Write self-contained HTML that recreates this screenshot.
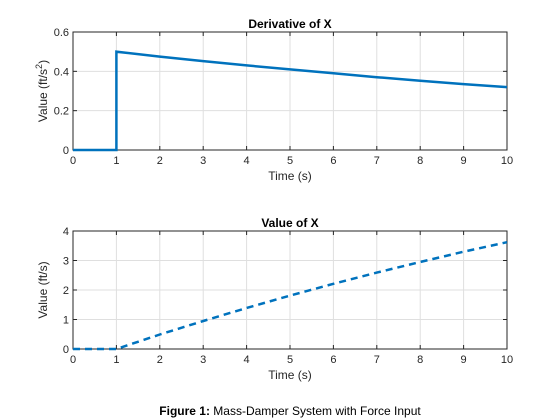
<!DOCTYPE html>
<html><head><meta charset="utf-8"><style>
body{margin:0;background:#fff}
svg{display:block;font-family:"Liberation Sans",sans-serif}
</style></head><body>
<svg id="c" width="560" height="420"></svg>
<script>
const tTop=[0,1,1,2,3,4,5,6,7,8,9,10];
const dxVals=[0,0,0.5,0.475,0.452,0.43,0.41,0.39,0.37,0.352,0.335,0.32];
const tBot=[0,1,2,3,4,5,6,7,8,9,10];
const xVals=[0,0,0.49,0.95,1.39,1.81,2.21,2.59,2.95,3.30,3.62];
const xTicks=[0,1,2,3,4,5,6,7,8,9,10];
const yTicksTop=[0,0.2,0.4,0.6];
const yTicksBot=[0,1,2,3,4];
const NS='http://www.w3.org/2000/svg';
const svg=document.getElementById('c');
function mk(tag,at,txt){const e=document.createElementNS(NS,tag);for(const k in at)e.setAttribute(k,at[k]);if(txt!=null)e.textContent=txt;svg.appendChild(e);return e;}
function panel(o){
  const L=73,R=507,T=o.top,B=o.bot;
  const sx=v=>L+(v-0)/(10-0)*(R-L);
  const sy=v=>B-(v-o.ymin)/(o.ymax-o.ymin)*(B-T);
  const bg=mk('rect',{x:L,y:T,width:R-L,height:B-T,fill:'#fff'});
  
  
  xTicks.forEach(v=>{
    const g=mk('line',{x1:sx(v),x2:sx(v),y1:T,y2:B,stroke:'#dfdfdf','stroke-width':1});
    
    
    mk('line',{x1:sx(v),x2:sx(v),y1:B,y2:B-4,stroke:'#262626'});
    mk('line',{x1:sx(v),x2:sx(v),y1:T,y2:T+4,stroke:'#262626'});
    const t=mk('text',{x:sx(v),y:B+14,'text-anchor':'middle','font-size':11,fill:'#262626'},v);
    
    
  });
  o.yt.forEach(v=>{
    const g=mk('line',{x1:L,x2:R,y1:sy(v),y2:sy(v),stroke:'#dfdfdf','stroke-width':1});
    
    
    mk('line',{x1:L,x2:L+4,y1:sy(v),y2:sy(v),stroke:'#262626'});
    mk('line',{x1:R,x2:R-4,y1:sy(v),y2:sy(v),stroke:'#262626'});
    const t=mk('text',{x:L-4,y:sy(v)+4,'text-anchor':'end','font-size':11,fill:'#262626'},v);
    
    
  });
  const box=mk('rect',{x:L,y:T,width:R-L,height:B-T,fill:'none',stroke:'#262626','stroke-width':1});
  
  
  const pts=o.xs.map((x,i)=>sx(x).toFixed(1)+','+sy(o.ys[i]).toFixed(1)).join(' ');
  const line=mk('polyline',{points:pts,fill:'none',stroke:'#0072bd','stroke-width':2.5,'stroke-dasharray':o.dash||'none'});
  
  
  const ti=mk('text',{x:(L+R)/2,y:T-4,'text-anchor':'middle','font-size':12,'font-weight':'bold',fill:'#000'},o.title);
  
  
  const xl=mk('text',{x:(L+R)/2,y:B+30,'text-anchor':'middle','font-size':12,fill:'#262626'},'Time (s)');
  
  
  const yl=mk('text',{x:0,y:0,'text-anchor':'middle','font-size':12,fill:'#262626',transform:`translate(47,${(T+B)/2}) rotate(-90)`});
  yl.innerHTML=o.ylab;
  
  
}
panel({name:'derivative',top:32,bot:150,ymin:0,ymax:0.6,yt:yTicksTop,xs:tTop,ys:dxVals,title:'Derivative of X',ylab:'Value (ft/s<tspan dy="-5" font-size="9">2</tspan><tspan dy="5">)</tspan>'});
panel({name:'value',top:231,bot:349,ymin:0,ymax:4,yt:yTicksBot,xs:tBot,ys:xVals,title:'Value of X',ylab:'Value (ft/s)',dash:'7,5'});
const cap=mk('text',{x:290,y:415,'text-anchor':'middle','font-size':12,fill:'#000'});
cap.innerHTML='<tspan font-weight="bold">Figure 1:</tspan> Mass-Damper System with Force Input';


</script>
</body></html>
